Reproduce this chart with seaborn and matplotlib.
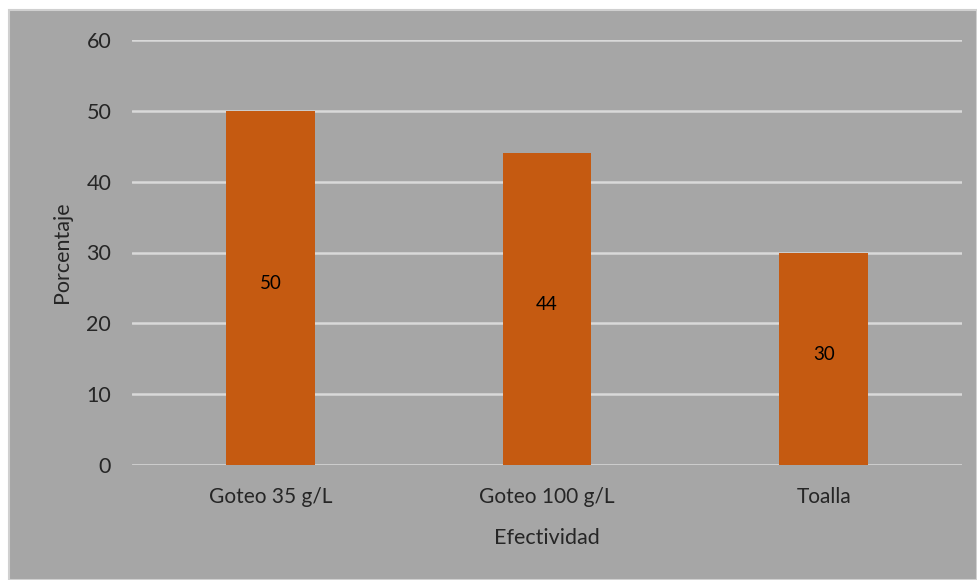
import matplotlib
matplotlib.use("Agg")
import matplotlib.pyplot as plt
import seaborn as sns
import pandas as pd
from matplotlib.patches import Rectangle

categories = ["Goteo 35 g/L", "Goteo 100 g/L", "Toalla"]
values = [50, 44, 30]
yticks = [0, 10, 20, 30, 40, 50, 60]

df = pd.DataFrame({"Efectividad": categories, "Porcentaje": values})

sns.set_theme(style="white")
plt.rcParams["font.family"] = ["Lato", "DejaVu Sans"]

W, H = 977, 580
fig = plt.figure(figsize=(W / 100, H / 100), dpi=100, facecolor="white")

# grey chart area with a thin light border, drawn behind the axes
fig.patches.append(Rectangle((9 / W, 0), (W - 9) / W, (H - 10) / H,
                             transform=fig.transFigure, facecolor="#a6a6a6",
                             edgecolor="#d0d0d0", linewidth=1.5, zorder=-10))

ax = fig.add_axes([132 / W, 1 - 465 / H, (962 - 132) / W, (465 - 40) / H])
ax.set_zorder(5)
ax.patch.set_alpha(0)

sns.barplot(data=df, x="Efectividad", y="Porcentaje", color="#c55a11",
            saturation=1, width=0.32, linewidth=0, ax=ax, zorder=3)

ax.set_ylim(0, 60)
ax.set_xlim(-0.5, 2.5)
ax.set_yticks(yticks)
ax.yaxis.grid(True, color="#d9d9d9", linewidth=1.8, zorder=1)
ax.set_axisbelow(True)
for s in ax.spines.values():
    s.set_visible(False)

txt = "#262626"
ax.tick_params(axis="both", length=0, colors=txt)
ax.tick_params(axis="y", pad=15, labelsize=15.5)
ax.tick_params(axis="x", pad=16, labelsize=15)

ax.set_xlabel("Efectividad", fontsize=15.5, color=txt, labelpad=15)
ax.set_ylabel("Porcentaje", fontsize=15.5, color=txt, labelpad=10)

for i, v in enumerate(values):
    ax.annotate(str(v), (i, v / 2), xytext=(0, 3), textcoords="offset points",
                ha="center", va="center", fontsize=13.5, color="black")

fig.savefig("out.png", dpi=100, facecolor="white")
